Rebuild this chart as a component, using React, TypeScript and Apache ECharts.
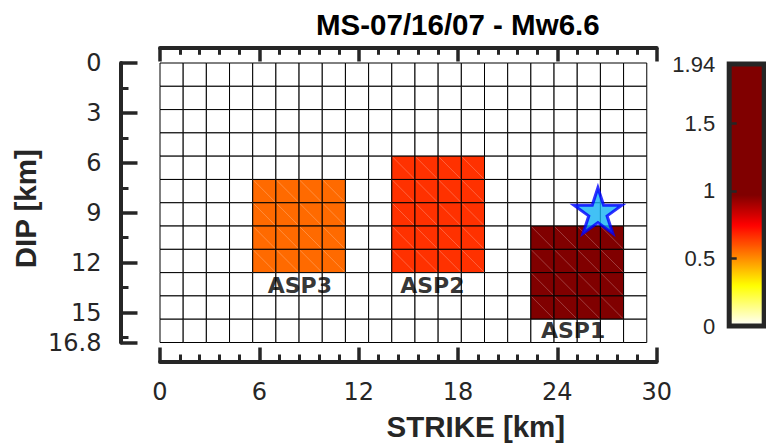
import React, { useEffect, useRef } from 'react';
import * as echarts from 'echarts';

// ---- chart text ----
const TITLE = 'MS-07/16/07 - Mw6.6';
const STRIKE_NAME = 'STRIKE [km]';
const DIP_NAME = 'DIP [km]';

// ---- axes (km / m) ----
const strikeRange = [0, 30];
const strikeStep = 6;
const dipRange = [0, 16.8];
const dipStep = 3;
const slipRange = [0, 1.94];
const slipStep = 0.5;

// ---- fault discretisation ----
const subfaultKm = 1.4;
const strikeCells = 21;
const dipCells = 12;

// ---- asperities ----
const asperityNames = ['ASP1', 'ASP2', 'ASP3'];
const asperityStrikeFrom = [22.4, 14.0, 5.6];
const asperityStrikeTo = [28.0, 19.6, 11.2];
const asperityDipFrom = [9.8, 5.6, 7.0];
const asperityDipTo = [15.4, 12.6, 12.6];
const asperitySlip = [1.94, 0.66, 0.56];
const asperityLabelStrike = [24.95, 16.45, 8.45];
const asperityLabelDip = [15.3, 12.6, 12.6];

// ---- hypocentre ----
const hypocenter = [26.45, 8.87];

// ---- colour map (white -> yellow -> red -> dark red, then saturated) ----
const slipColors = [
  '#FFFFFF', '#FFFFBF', '#FFFF80', '#FFFF40', '#FFFF00',
  '#FFD400', '#FFAA00', '#FF8000', '#FF5500', '#FF2B00',
  '#FF0000', '#D40000', '#AA0000', '#800000',
  '#800000', '#800000', '#800000', '#800000', '#800000', '#800000', '#800000',
  '#800000', '#800000', '#800000', '#800000', '#800000', '#800000',
];

const STAR_PATH =
  'path://M0,-1L0.2245,-0.309L0.951,-0.309L0.363,0.118L0.588,0.809L0,0.382L-0.588,0.809L-0.363,0.118L-0.951,-0.309L-0.2245,-0.309Z';

const AXIS_COLOR = '#262626';

function buildCells(): number[][] {
  const cells: number[][] = [];
  const eps = 1e-6;
  for (let j = 0; j < dipCells; j++) {
    for (let i = 0; i < strikeCells; i++) {
      const x0 = Math.round(i * subfaultKm * 100) / 100;
      const y0 = Math.round(j * subfaultKm * 100) / 100;
      let slip = 0;
      for (let k = 0; k < asperityNames.length; k++) {
        if (
          x0 >= asperityStrikeFrom[k] - eps && x0 < asperityStrikeTo[k] - eps &&
          y0 >= asperityDipFrom[k] - eps && y0 < asperityDipTo[k] - eps
        ) {
          slip = asperitySlip[k];
        }
      }
      cells.push([x0, y0, slip]);
    }
  }
  return cells;
}

export default function App() {
  const ref = useRef<HTMLDivElement>(null);

  useEffect(() => {
    if (!ref.current) return;
    const chart = echarts.init(ref.current, null, { renderer: 'svg' });

    const tickLabel = { fontFamily: 'DejaVu Sans', fontSize: 24, color: AXIS_COLOR };
    const boldName = { fontFamily: 'Liberation Sans', fontWeight: 'bold' as const, fontSize: 29.5, color: AXIS_COLOR };
    const axisLine = { show: true, onZero: false, lineStyle: { color: AXIS_COLOR, width: 4 } };

    const option: any = {
      animation: false,
      backgroundColor: '#ffffff',
      title: {
        text: TITLE,
        left: 316,
        top: 9.5,
        padding: 0,
        textStyle: { fontFamily: 'Liberation Sans', fontWeight: 'bold', fontSize: 29.5, color: '#000' },
      },
      grid: [
        { left: 160, top: 63, width: 496.7, height: 280.3, show: false },
        {
          left: 729.2, top: 64, width: 35, height: 262, show: true,
          borderColor: AXIS_COLOR, borderWidth: 5, backgroundColor: 'transparent', z: 3,
        },
      ],
      xAxis: [
        {
          gridIndex: 0, type: 'value', position: 'bottom', offset: 19.5,
          min: strikeRange[0], max: strikeRange[1], interval: strikeStep,
          axisLine,
          axisTick: { show: true, inside: true, length: 14.5, lineStyle: { color: AXIS_COLOR, width: 3.5 } },
          minorTick: { show: true, splitNumber: 5, length: 7.5, lineStyle: { color: AXIS_COLOR, width: 3 } },
          axisLabel: { ...tickLabel, margin: 17.8, showMinLabel: true, showMaxLabel: true },
          splitLine: { show: false }, minorSplitLine: { show: false },
          name: STRIKE_NAME, nameLocation: 'middle', nameGap: 49, nameMoveOverlap: false,
          nameTextStyle: { ...boldName, padding: [0, 0, 0, 135] },
        },
        {
          gridIndex: 0, type: 'value', position: 'top', offset: 15,
          min: strikeRange[0], max: strikeRange[1], interval: strikeStep,
          axisLine,
          axisTick: { show: true, inside: true, length: 13.5, lineStyle: { color: AXIS_COLOR, width: 3.5 } },
          minorTick: { show: true, splitNumber: 5, length: 6.8, lineStyle: { color: AXIS_COLOR, width: 3 } },
          axisLabel: { show: false },
          splitLine: { show: false }, minorSplitLine: { show: false },
        },
        { gridIndex: 1, type: 'value', show: false, min: 0, max: 1 },
      ],
      yAxis: [
        {
          gridIndex: 0, type: 'value', position: 'left', offset: 39.5, inverse: true,
          min: dipRange[0], max: dipRange[1], interval: dipStep,
          axisLine,
          axisTick: { show: true, inside: true, length: 17, lineStyle: { color: AXIS_COLOR, width: 3.5 } },
          minorTick: { show: true, splitNumber: 2, length: 8, lineStyle: { color: AXIS_COLOR, width: 3 } },
          axisLabel: { ...tickLabel, margin: 19, showMinLabel: true, showMaxLabel: true },
          splitLine: { show: false }, minorSplitLine: { show: false },
          name: DIP_NAME, nameLocation: 'middle', nameGap: 80, nameMoveOverlap: false,
          nameTextStyle: { ...boldName, padding: [0, 12, 0, 0] },
        },
        {
          gridIndex: 1, type: 'value', position: 'left', z: 4,
          min: slipRange[0], max: slipRange[1], interval: slipStep,
          axisLine: { show: false },
          axisTick: { show: true, inside: true, length: 7.5, lineStyle: { color: AXIS_COLOR, width: 2.5 } },
          axisLabel: {
            fontFamily: 'Liberation Sans', fontSize: 22, color: AXIS_COLOR, margin: 14,
            showMinLabel: true, showMaxLabel: true,
          },
          splitLine: { show: false },
        },
      ],
      visualMap: {
        type: 'continuous',
        min: slipRange[0], max: slipRange[1],
        dimension: 2, seriesIndex: 0,
        calculable: false, hoverLink: false,
        orient: 'vertical',
        left: 729.2, top: 64, itemWidth: 35, itemHeight: 262,
        padding: 0, z: 1,
        inRange: { color: slipColors },
      },
      series: [
        {
          type: 'custom',
          xAxisIndex: 0, yAxisIndex: 0,
          silent: true,
          data: buildCells(),
          renderItem: (params: any, api: any) => {
            const x0 = api.value(0);
            const y0 = api.value(1);
            const p0 = api.coord([x0, y0]);
            const p1 = api.coord([x0 + subfaultKm, y0 + subfaultKm]);
            const color = api.visual('color');
            const shape = { x: p0[0], y: p0[1], width: p1[0] - p0[0], height: p1[1] - p0[1] };
            return {
              type: 'group',
              children: [
                { type: 'rect', shape, style: { fill: color, stroke: null } },
                {
                  type: 'line',
                  shape: { x1: p0[0], y1: p0[1], x2: p1[0], y2: p1[1] },
                  style: { stroke: 'rgba(255,255,255,0.3)', lineWidth: 0.8 },
                },
                { type: 'rect', shape, style: { fill: null, stroke: '#000', lineWidth: 1 } },
              ],
            };
          },
        },
        {
          type: 'scatter',
          xAxisIndex: 0, yAxisIndex: 0,
          silent: true, z: 3,
          symbolSize: 1,
          itemStyle: { color: 'rgba(0,0,0,0)' },
          data: asperityNames.map((n, k) => ({ name: n, value: [asperityLabelStrike[k], asperityLabelDip[k]] })),
          label: {
            show: true, position: 'bottom', distance: 1, formatter: '{b}',
            fontFamily: 'DejaVu Sans', fontWeight: 'bold', fontSize: 22, color: '#000',
          },
        },
        {
          type: 'scatter',
          xAxisIndex: 0, yAxisIndex: 0,
          silent: true, z: 4,
          symbol: STAR_PATH,
          symbolSize: [48, 45.5],
          itemStyle: { color: '#13B1F3', borderColor: '#0000FF', borderWidth: 3 },
          data: [hypocenter],
        },
      ],
    };

    chart.setOption(option);
    return () => chart.dispose();
  }, []);

  return <div ref={ref} style={{ width: 766, height: 446, position: 'absolute', left: 0, top: 0 }} />;
}
